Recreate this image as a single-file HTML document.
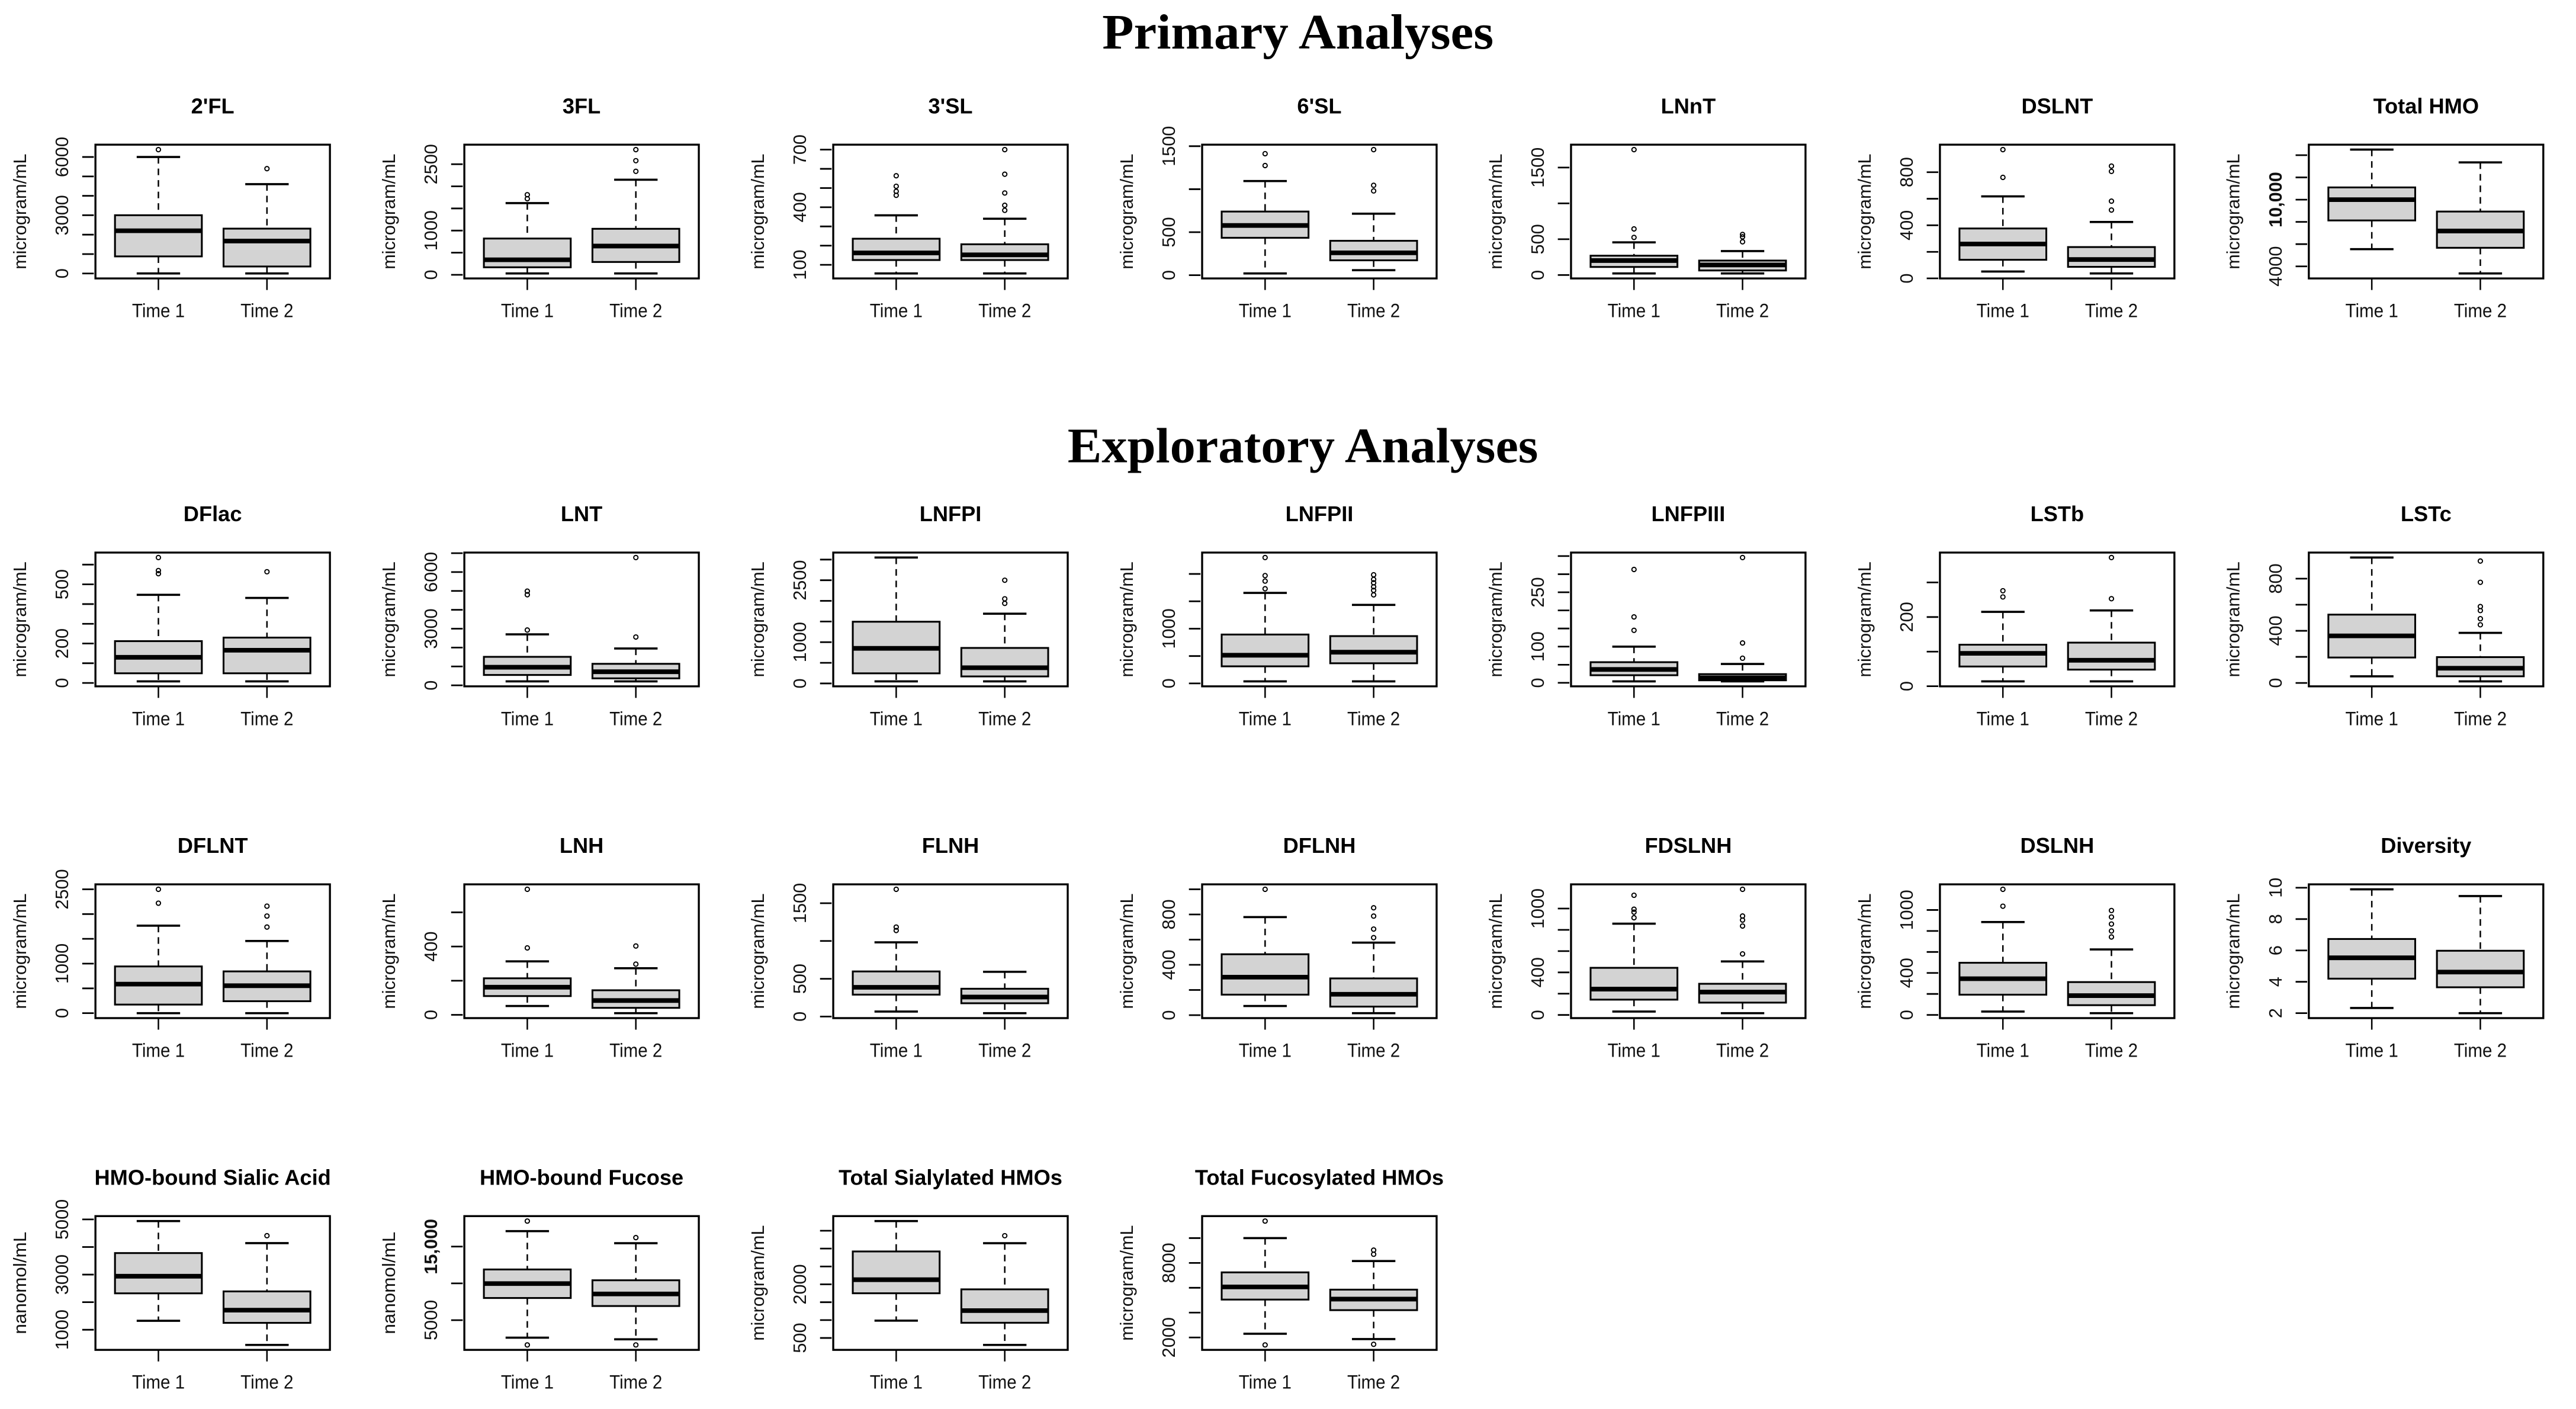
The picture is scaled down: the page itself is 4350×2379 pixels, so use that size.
<!DOCTYPE html>
<html><head><meta charset="utf-8"><style>
html,body{margin:0;padding:0;background:#fff;}
svg{display:block;}
</style></head><body>
<svg id="chart" xmlns="http://www.w3.org/2000/svg" width="4350" height="2379" viewBox="0 0 1560 853.2" preserveAspectRatio="none">
<rect x="0" y="0" width="1560" height="853.2" fill="#fff"/>
<text x="786" y="29.5" text-anchor="middle" font-family="Liberation Serif, serif" font-weight="bold" font-size="30" textLength="237" lengthAdjust="spacingAndGlyphs">Primary Analyses</text>
<text x="789" y="280" text-anchor="middle" font-family="Liberation Serif, serif" font-weight="bold" font-size="30" textLength="285" lengthAdjust="spacingAndGlyphs">Exploratory Analyses</text>
<g id="panels"></g>
</svg>
<script>
const titles = ["2'FL","3FL","3'SL","6'SL","LNnT","DSLNT","Total HMO",
"DFlac","LNT","LNFPI","LNFPII","LNFPIII","LSTb","LSTc",
"DFLNT","LNH","FLNH","DFLNH","FDSLNH","DSLNH","Diversity",
"HMO-bound Sialic Acid","HMO-bound Fucose","Total Sialylated HMOs","Total Fucosylated HMOs"];
const yLabels = ["microgram/mL","microgram/mL","microgram/mL","microgram/mL","microgram/mL","microgram/mL","microgram/mL",
"microgram/mL","microgram/mL","microgram/mL","microgram/mL","microgram/mL","microgram/mL","microgram/mL",
"microgram/mL","microgram/mL","microgram/mL","microgram/mL","microgram/mL","microgram/mL","microgram/mL",
"nanomol/mL","nanomol/mL","microgram/mL","microgram/mL"];
const groups = ["Time 1","Time 2"];
const tickValues = [
[0,1000,2000,3000,4000,5000,6000],[0,500,1000,1500,2000,2500],[100,200,300,400,500,600,700],[0,500,1000,1500],[0,500,1000,1500],[0,200,400,600,800],[4000,6000,8000,10000,12000,14000],
[0,100,200,300,400,500,600],[0,1000,2000,3000,4000,5000,6000,7000],[0,500,1000,1500,2000,2500,3000],[0,500,1000,1500,2000],[0,50,100,150,200,250,300,350],[0,100,200,300],[0,200,400,600,800],
[0,500,1000,1500,2000,2500],[0,200,400,600],[0,500,1000,1500],[0,200,400,600,800,1000],[0,200,400,600,800,1000],[0,200,400,600,800,1000],[2,4,6,8,10],
[1000,2000,3000,4000,5000],[5000,10000,15000],[500,1000,1500,2000,2500,3000,3500],[2000,4000,6000,8000,10000]];
const tickLabels = [
["0","","","3000","","","6000"],["0","","1000","","","2500"],["100","","","400","","","700"],["0","500","","1500"],["0","500","","1500"],["0","","400","","800"],["4000","","","10,000","",""],
["0","","200","","","500",""],["0","","","3000","","","6000",""],["0","","1000","","","2500",""],["0","","1000","",""],["0","","100","","","250","",""],["0","","200",""],["0","","400","","800"],
["0","","1000","","","2500"],["0","","400",""],["0","500","","1500"],["0","","400","","800",""],["0","","400","","","1000"],["0","","400","","","1000"],["2","4","6","8","10"],
["1000","","3000","","5000"],["5000","","15,000"],["500","","","2000","","",""],["2000","","","8000",""]];
// Time 1 statistics
const low1 = [0,30,55,20,22,52,5550, 8,210,50,37,4,14,51, 0,52,66,73,32,32,2.33, 1325,2620,985,2300];
const q1_1 = [880,170,125,435,113,140,8130, 49,550,245,312,21,57,195, 173,110,290,163,144,193,4.2, 2320,8010,1750,5050];
const med1 = [2200,340,162,578,202,259,10000, 130,960,850,515,37,95,361, 586,162,387,302,243,345,5.53, 2940,9970,2130,6070];
const q3_1 = [3000,820,236,740,270,376,11100, 212,1510,1495,893,57,120,524, 943,214,597,484,443,497,6.73, 3780,11890,2920,7240];
const high1 = [6000,1620,358,1095,456,618,14500, 447,2700,3050,1654,100,215,962, 1766,313,982,779,858,885,9.9, 4940,17100,3770,10000];
const out1 = [[6380],[1720,1810],[462,483,509,564],[1275,1413],[525,644,1750],[761,970],[],
[554,570,636],[2930,4800,4990],[],[1730,1870,1970,2300],[145,182,313],[258,276],[],
[2220,2500],[392,735],[1139,1184,1684],[1000],[914,966,994,1125],[1036,1197],[],
[],[1630,18470],[],[1400,11370]];
// Time 2 statistics
const low2 = [0,30,55,58,22,37,3360, 8,210,50,37,4,14,12, 0,10,45,16,17,17,2.0, 450,2400,305,1870];
const q1_2 = [360,290,125,173,64,87,5670, 49,370,170,368,7,48,51, 241,41,176,68,116,93,3.65, 1250,6920,925,4200];
const med2 = [1670,650,152,260,141,142,7180, 166,720,380,570,14,75,113, 554,84,258,166,215,184,4.62, 1710,8560,1265,5090];
const q3_2 = [2310,1040,207,400,202,236,8930, 230,1140,860,864,24,126,198, 843,144,368,292,293,313,5.98, 2390,10420,1860,5850];
const high2 = [4600,2150,340,715,334,425,13350, 431,1950,1690,1434,52,219,384, 1457,273,592,576,503,624,9.47, 4140,15460,3150,8150];
const out2 = [[5400],[2340,2580,2830],[384,410,474,572,700],[980,1045,1460],[464,533,566],[515,582,806,846],[],
[564],[2560,6770],[1940,2050,2500],[1618,1700,1765,1838,1900,1985],[68,110,346],[253,372],[446,493,555,586,772,935],
[1738,1960,2160],[297,403],[],[616,684,787,853],[574,836,892,930,1181],[743,800,866,933,995],[],
[4410],[1630,16220],[3360],[1450,8700,9030]];

const NS = "http://www.w3.org/2000/svg";
const root = document.getElementById("panels");
const rowSizes = [7,7,7,4];
const rowTops = [87.6,334.6,535.5,736.4];
const colLeft = 57.8, colPitch = 223.4, plotW = 142, plotH = 81;
const FONT = "Liberation Sans, sans-serif";
function mk(tag, attrs, parent){
  const e = document.createElementNS(NS, tag);
  for (const k in attrs) e.setAttribute(k, attrs[k]);
  (parent||root).appendChild(e);
  return e;
}
function slug(s){return s.toLowerCase().replace(/[^a-z0-9]+/g,'-').replace(/^-|-$/g,'');}

let idx = 0;
rowSizes.forEach((n, r) => {
  for (let c = 0; c < n; c++, idx++) {
    const i = idx;
    const L = colLeft + c*colPitch, T = rowTops[r], B = T + plotH, R = L + plotW;
    const g = mk("g", {});
    
    
    const lows = [low1[i], low2[i]], q1s=[q1_1[i],q1_2[i]], meds=[med1[i],med2[i]], q3s=[q3_1[i],q3_2[i]], highs=[high1[i],high2[i]], outs=[out1[i],out2[i]];
    let lo = Math.min(...lows, ...outs[0], ...outs[1]);
    let hi = Math.max(...highs, ...outs[0], ...outs[1]);
    const rg = hi - lo, y0 = lo - 0.04*rg, y1 = hi + 0.04*rg;
    const y = v => B - (v - y0)/(y1 - y0)*plotH;
    const x = k => L + ((k+1) - 0.42)/2.16*plotW;
    const bw = 0.8/2.16*plotW;

    const t = mk("text", {x:(L+R)/2, y:T-19, "text-anchor":"middle", "font-family":FONT, "font-weight":"bold", "font-size":13}, g);
    t.textContent = titles[i];
    
    

    const ylLen = yLabels[i].startsWith("nano") ? 62 : 70;
    const yl = mk("text", {x:0, y:0, transform:`translate(${L-42},${(T+B)/2}) rotate(-90)`, "text-anchor":"middle", "font-family":FONT, "font-size":11, fill:"#111", textLength:ylLen, lengthAdjust:"spacingAndGlyphs"}, g);
    yl.textContent = yLabels[i];
    
    

    tickValues[i].forEach((tv, k) => {
      const ty = y(tv);
      const tk = mk("line", {x1:L-8, x2:L-1, y1:ty, y2:ty, stroke:"#000", "stroke-width":1}, g);
      
      
      if (tickLabels[i][k]) {
        const bold = tickLabels[i][k].indexOf(',') >= 0;
        const tl = mk("text", {x:0, y:0, transform:`translate(${L-16.5},${ty}) rotate(-90)`, "text-anchor":"middle", "font-family":FONT, "font-size":11, "font-weight":bold?"bold":"normal", fill:"#111"}, g);
        tl.textContent = tickLabels[i][k];
        
        
      }
    });

    for (let k = 0; k < 2; k++) {
      const cx = x(k);
      const bg = mk("g", {}, g);
      
      
      mk("line", {x1:cx, x2:cx, y1:y(highs[k]), y2:y(q3s[k]), stroke:"#000", "stroke-width":0.9, "stroke-dasharray":"4,3"}, bg);
      mk("line", {x1:cx, x2:cx, y1:y(q1s[k]), y2:y(lows[k]), stroke:"#000", "stroke-width":0.9, "stroke-dasharray":"4,3"}, bg);
      mk("line", {x1:cx-bw/4, x2:cx+bw/4, y1:y(highs[k]), y2:y(highs[k]), stroke:"#000", "stroke-width":1.3}, bg);
      mk("line", {x1:cx-bw/4, x2:cx+bw/4, y1:y(lows[k]), y2:y(lows[k]), stroke:"#000", "stroke-width":1.3}, bg);
      mk("rect", {x:cx-bw/2, y:y(q3s[k]), width:bw, height:Math.max(0.5,y(q1s[k])-y(q3s[k])), fill:"#d3d3d3", stroke:"#000", "stroke-width":1.1}, bg);
      mk("line", {x1:cx-bw/2, x2:cx+bw/2, y1:y(meds[k]), y2:y(meds[k]), stroke:"#000", "stroke-width":2.8}, bg);
      outs[k].forEach(v => {
        const o = mk("circle", {cx:cx, cy:y(v), r:1.3, fill:"none", stroke:"#000", "stroke-width":0.7}, bg);
        
        
      });
      const xt = mk("line", {x1:cx, x2:cx, y1:B, y2:B+7, stroke:"#000", "stroke-width":0.9}, g);
      
      
      const xl = mk("text", {x:cx, y:B+23.5, "text-anchor":"middle", "font-family":FONT, "font-size":11.5, fill:"#111", textLength:32, lengthAdjust:"spacingAndGlyphs"}, g);
      xl.textContent = groups[k];
      
      
    }
    const fr = mk("rect", {x:L, y:T, width:plotW, height:plotH, fill:"none", stroke:"#000", "stroke-width":1.2}, g);
    
    
  }
});
</script>
</body></html>
